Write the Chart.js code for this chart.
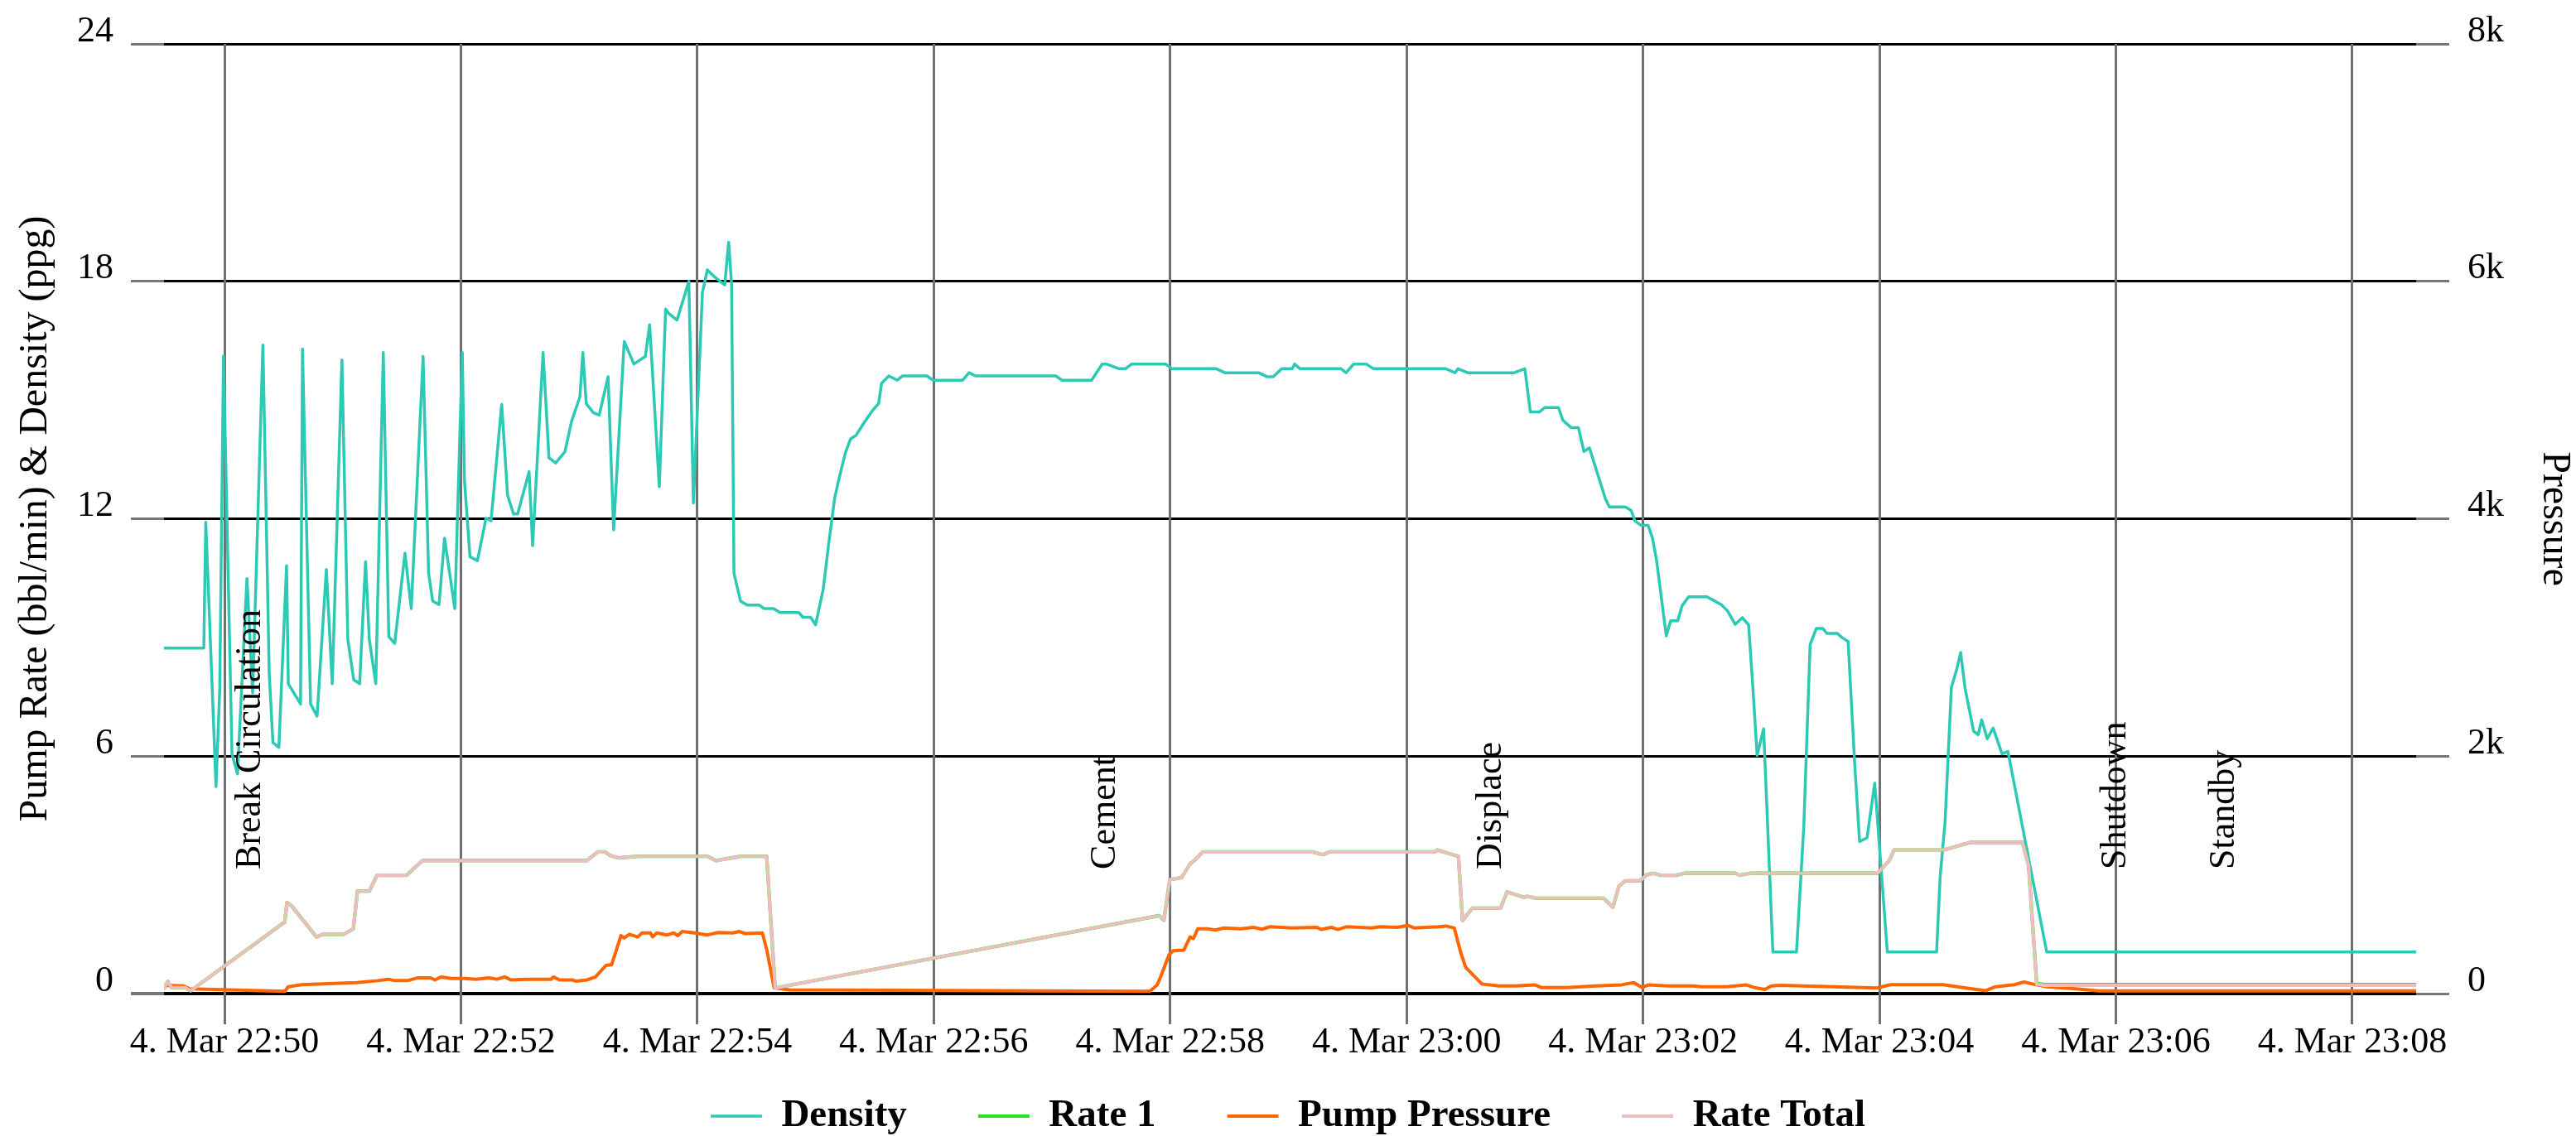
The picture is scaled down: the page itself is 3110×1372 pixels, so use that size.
<!DOCTYPE html>
<html>
<head>
<meta charset="utf-8">
<script src="https://cdn.jsdelivr.net/npm/chart.js@4"></script>
<style>
html,body{margin:0;padding:0;background:#fff;}
#wrap{width:3110px;height:1372px;}
</style>
</head>
<body>
<div id="wrap"><canvas id="c" width="3110" height="1372"></canvas></div>
<script>
// ---- DATA (time = seconds after 22:00:00 on 4 Mar) ----
const densityTime = [2969.5, 2989.5, 2990.5, 2995.7, 2997.6, 2999.5, 3003.8, 3006.6, 3011.4, 3014.3,
  3019.5, 3022.7, 3024.6, 3027.6, 3031.5, 3032.4, 3038.6, 3039.6, 3043.7, 3047.0,
  3051.7, 3054.7, 3059.6, 3062.6, 3065.6, 3068.6, 3071.6, 3073.5, 3076.8, 3080.6,
  3083.4, 3086.4, 3091.6, 3094.8, 3100.8, 3103.6, 3105.7, 3108.9, 3111.7, 3114.3,
  3116.9, 3120.7, 3121.8, 3124.6, 3128.4, 3132.7, 3135.3, 3140.7, 3143.7, 3146.7,
  3148.8, 3154.6, 3156.4, 3161.7, 3164.7, 3168.1, 3172.8, 3176.1, 3180.4, 3181.9,
  3183.6, 3187.2, 3190.2, 3194.7, 3197.5, 3202.9, 3207.8, 3213.6, 3215.8, 3220.7,
  3223.9, 3225.6, 3229.7, 3235.7, 3238.0, 3242.6, 3245.1, 3249.0, 3253.9, 3255.9,
  3257.4, 3258.6, 3261.9, 3265.3, 3271.3, 3273.9, 3278.6, 3282.0, 3291.5, 3293.6,
  3297.5, 3300.0, 3303.9, 3306.7, 3309.7, 3311.4, 3315.1, 3317.8, 3320.6, 3324.3,
  3329.0, 3332.0, 3333.5, 3337.2, 3341.5, 3344.2, 3356.5, 3359.7, 3374.7, 3377.9,
  3381.2, 3421.9, 3425.1, 3440.1, 3445.5, 3447.6, 3454.1, 3457.3, 3460.5, 3477.6,
  3480.9, 3503.4, 3507.7, 3524.9, 3529.1, 3532.3, 3536.6, 3542.0, 3543.1, 3545.9,
  3566.7, 3569.3, 3573.1, 3579.5, 3583.2, 3619.9, 3624.6, 3626.1, 3631.0, 3654.6,
  3660.0, 3662.8, 3667.5, 3670.1, 3677.1, 3679.3, 3683.6, 3687.2, 3690.0, 3692.8,
  3700.8, 3702.9, 3711.0, 3714.0, 3715.8, 3719.0, 3722.6, 3724.8, 3726.9, 3731.8,
  3734.0, 3737.6, 3739.8, 3743.2, 3752.2, 3756.5, 3759.7, 3762.9, 3766.8, 3770.4,
  3773.6, 3775.8, 3777.9, 3781.2, 3785.9, 3797.9, 3801.6, 3804.8, 3808.0, 3811.2,
  3813.4, 3818.7, 3820.9, 3824.1, 3827.3, 3829.9, 3833.7, 3837.6, 3844.0, 3869.0,
  3870.8, 3873.3, 3876.5, 3879.3, 3881.2, 3883.4, 3887.8, 3890.1, 3891.9, 3894.7,
  3897.7, 3902.2, 3905.2, 3924.9, 4112.4];
const densityValue = [8.73, 8.73, 11.91, 5.23, 7.70, 16.11, 6.06, 5.55, 10.49, 7.6,
  16.39, 8.09, 6.34, 6.22, 10.81, 7.83, 7.32, 16.29, 7.32, 7.01,
  10.72, 7.83, 16.01, 8.95, 7.93, 7.83, 10.91, 8.95, 7.83, 16.20,
  9.02, 8.85, 11.13, 9.73, 16.10, 10.62, 9.92, 9.83, 11.51, 10.62,
  9.73, 16.20, 12.97, 11.04, 10.94, 12.01, 11.95, 14.89, 12.59, 12.12,
  12.12, 13.19, 11.32, 16.20, 13.54, 13.41, 13.69, 14.45, 15.08, 16.20,
  14.91, 14.68, 14.62, 15.59, 11.72, 16.48, 15.91, 16.10, 16.90, 12.81,
  17.30, 17.18, 17.02, 18.0, 12.40, 17.72, 18.29, 18.10, 17.91, 18.99,
  17.91, 10.62, 9.92, 9.82, 9.82, 9.73, 9.73, 9.63, 9.63, 9.51,
  9.51, 9.32, 10.22, 11.38, 12.52, 12.90, 13.66, 14.02, 14.11, 14.40,
  14.74, 14.91, 15.42, 15.61, 15.50, 15.61, 15.61, 15.50, 15.50, 15.69,
  15.61, 15.61, 15.50, 15.50, 15.91, 15.91, 15.79, 15.79, 15.91, 15.91,
  15.79, 15.79, 15.69, 15.69, 15.59, 15.59, 15.79, 15.79, 15.91, 15.79,
  15.79, 15.69, 15.91, 15.91, 15.79, 15.79, 15.69, 15.79, 15.69, 15.69,
  15.79, 14.70, 14.70, 14.81, 14.81, 14.49, 14.30, 14.30, 13.70, 13.79,
  12.52, 12.30, 12.30, 12.21, 11.95, 11.83, 11.83, 11.51, 10.94, 9.04,
  9.42, 9.42, 9.80, 10.03, 10.03, 9.92, 9.83, 9.67, 9.33, 9.50,
  9.32, 7.70, 6.02, 6.69, 1.05, 1.05, 4.22, 8.82, 9.23, 9.23,
  9.10, 9.10, 9.00, 8.90, 5.93, 3.84, 3.94, 5.32, 1.05, 1.05,
  2.95, 4.34, 7.73, 8.21, 8.62, 7.73, 6.63, 6.54, 6.92, 6.44,
  6.71, 6.06, 6.12, 1.05, 1.05];

const rateTime = [2969.5, 2971.2, 2973.1, 2980.2, 2982.8, 3030.6, 3031.7, 3033.8, 3046.7, 3049.9,
  3060.7, 3065.4, 3067.5, 3073.5, 3077.4, 3092.4, 3100.4, 3184.0, 3189.4, 3193.2,
  3195.8, 3200.1, 3209.8, 3245.1, 3249.4, 3262.3, 3275.2, 3279.5, 3474.4, 3476.8,
  3479.8, 3485.8, 3490.1, 3492.2, 3496.5, 3552.3, 3557.6, 3560.9, 3614.5, 3615.6,
  3626.3, 3628.4, 3633.4, 3647.7, 3651.0, 3659.6, 3661.3, 3666.0, 3699.9, 3704.7,
  3707.8, 3711.0, 3718.5, 3721.8, 3725.0, 3729.3, 3736.8, 3741.1, 3766.8, 3769.0,
  3774.4, 3839.0, 3845.0, 3847.4, 3872.7, 3886.0, 3912.6, 3915.7, 3919.8, 3923.5,
  4112.4];
const rate1Value = [0.14, 0.31, 0.15, 0.15, 0.07, 1.81, 2.30, 2.23, 1.43, 1.50,
  1.50, 1.64, 2.59, 2.59, 2.99, 2.99, 3.36, 3.36, 3.58, 3.58,
  3.49, 3.43, 3.47, 3.47, 3.36, 3.47, 3.47, 0.14, 1.97, 1.85,
  2.88, 2.93, 3.28, 3.36, 3.58, 3.58, 3.51, 3.58, 3.58, 3.63,
  3.47, 1.85, 2.16, 2.16, 2.57, 2.43, 2.46, 2.41, 2.41, 2.18,
  2.72, 2.85, 2.85, 3.00, 3.04, 2.99, 2.99, 3.04, 3.04, 2.99,
  3.04, 3.04, 3.36, 3.63, 3.63, 3.82, 3.82, 3.24, 0.26, 0.23,
  0.23];
const rateTotalValue = [0.14, 0.31, 0.15, 0.15, 0.07, 1.81, 2.30, 2.23, 1.43, 1.50,
  1.50, 1.64, 2.59, 2.59, 2.99, 2.99, 3.36, 3.36, 3.58, 3.58,
  3.49, 3.43, 3.47, 3.47, 3.36, 3.47, 3.47, 0.14, 1.97, 1.85,
  2.88, 2.93, 3.28, 3.36, 3.58, 3.58, 3.51, 3.58, 3.58, 3.63,
  3.47, 1.85, 2.16, 2.16, 2.57, 2.43, 2.46, 2.41, 2.41, 2.18,
  2.72, 2.85, 2.85, 3.00, 3.04, 2.99, 2.99, 3.04, 3.04, 2.99,
  3.04, 3.04, 3.36, 3.63, 3.63, 3.82, 3.82, 3.24, 0.24, 0.21,
  0.21];

const pressureTime = [2969.5, 2970.6, 2979.1, 2982.3, 3030.6, 3032.4, 3039.2, 3067.1, 3077.8, 3083.2,
  3086.4, 3092.8, 3098.2, 3104.6, 3106.8, 3110.0, 3115.2, 3121.8, 3127.8, 3134.1,
  3138.3, 3142.2, 3145.4, 3152.9, 3165.8, 3166.9, 3170.1, 3176.5, 3178.6, 3184.0,
  3188.3, 3193.6, 3196.5, 3199.0, 3201.2, 3202.9, 3205.5, 3209.7, 3211.9, 3216.2,
  3217.3, 3219.4, 3224.8, 3228.0, 3230.1, 3232.3, 3238.7, 3245.1, 3250.5, 3258.0,
  3261.2, 3264.4, 3273.0, 3275.2, 3279.0, 3286.7, 3466.9, 3469.7, 3473.4, 3475.1,
  3479.4, 3481.5, 3486.9, 3490.1, 3491.8, 3494.0, 3498.7, 3502.9, 3507.3, 3515.8,
  3522.3, 3526.5, 3530.8, 3541.6, 3554.4, 3556.6, 3561.9, 3565.1, 3569.4, 3582.3,
  3586.6, 3595.2, 3600.6, 3603.8, 3616.7, 3619.9, 3624.2, 3627.4, 3630.0, 3638.2,
  3646.8, 3655.4, 3665.1, 3668.3, 3681.2, 3696.2, 3709.1, 3715.3, 3719.6, 3722.8,
  3732.5, 3745.4, 3749.7, 3762.5, 3772.2, 3776.5, 3781.8, 3785.1, 3789.5, 3816.8,
  3838.5, 3845.7, 3872.3, 3886.8, 3894.0, 3898.9, 3908.5, 3913.4, 3917.7, 3925.0,
  3937.0, 3951.5, 4112.4];
const pressureValue = [51, 70, 65, 40, 19, 58, 75, 93, 109, 121,
  109, 109, 133, 133, 115, 140, 127, 127, 120, 133,
  121, 140, 115, 121, 121, 140, 115, 115, 104, 115,
  140, 237, 244, 372, 488, 469, 500, 477, 511, 511,
  477, 511, 494, 511, 488, 523, 511, 494, 514, 511,
  523, 505, 511, 372, 48, 31, 20, 19, 74, 140,
  326, 361, 366, 477, 465, 546, 546, 535, 553, 546,
  558, 542, 563, 553, 558, 540, 558, 540, 563, 553,
  563, 558, 574, 553, 563, 569, 553, 349, 221, 81,
  65, 65, 74, 51, 51, 65, 74, 93, 51, 74,
  65, 65, 58, 58, 74, 51, 35, 65, 70, 58,
  47, 75, 75, 40, 25, 58, 75, 98, 81, 58,
  44, 22, 22];

const xTickSeconds = [3000, 3120, 3240, 3360, 3480, 3600, 3720, 3840, 3960, 4080];
const xTickLabels = ['4. Mar 22:50', '4. Mar 22:52', '4. Mar 22:54', '4. Mar 22:56', '4. Mar 22:58',
  '4. Mar 23:00', '4. Mar 23:02', '4. Mar 23:04', '4. Mar 23:06', '4. Mar 23:08'];
const xMin = 2969.3, xMax = 4112.4;

const eventNames = ['Break Circulation', 'Cement', 'Displace', 'Shutdown', 'Standby'];
const eventTimes = [3018, 3452, 3648, 3965, 4020];

const leftTitle = 'Pump Rate (bbl/min) & Density (ppg)';
const rightTitle = 'Pressure';

// ---- CHART ----
const FONT = "'Liberation Serif', 'Times New Roman', serif";
Chart.defaults.font.family = FONT;
Chart.defaults.color = '#000';

const zip = (xs, ys) => xs.map((x, i) => ({x: x, y: ys[i]}));

const eventLabelPlugin = {
  id: 'eventLabels',
  afterDatasetsDraw(chart, args, opts) {
    const ctx = chart.ctx;
    const xs = chart.scales.x, ys = chart.scales.y;
    ctx.save();
    ctx.font = opts.fontSize + 'px ' + FONT;
    ctx.fillStyle = '#000';
    ctx.textAlign = 'left';
    ctx.textBaseline = 'alphabetic';
    eventNames.forEach((name, i) => {
      const px = xs.getPixelForValue(eventTimes[i]);
      const py = ys.getPixelForValue(opts.baseValue);
      ctx.save();
      ctx.translate(px, py);
      ctx.rotate(-Math.PI / 2);
      ctx.fillText(name, 0, 0);
      ctx.restore();
    });
    ctx.restore();
  }
};

new Chart(document.getElementById('c'), {
  type: 'line',
  data: {
    datasets: [
      {label: 'Density', data: zip(densityTime, densityValue), borderColor: '#2cc9b5', backgroundColor: '#2cc9b5', borderWidth: 3.5, yAxisID: 'y', order: 3},
      {label: 'Rate 1', data: zip(rateTime, rate1Value), borderColor: '#1fe81f', backgroundColor: '#1fe81f', borderWidth: 4.2, yAxisID: 'y', order: 2},
      {label: 'Pump Pressure', data: zip(pressureTime, pressureValue), borderColor: '#ff6600', backgroundColor: '#ff6600', borderWidth: 4, yAxisID: 'y2', order: 1},
      {label: 'Rate Total', data: zip(rateTime, rateTotalValue), borderColor: '#ecbfbe', backgroundColor: '#ecbfbe', borderWidth: 4, yAxisID: 'y', order: 0}
    ]
  },
  options: {
    responsive: false,
    animation: false,
    devicePixelRatio: 1,
    elements: {
      point: {radius: 0, hoverRadius: 0},
      line: {tension: 0, borderJoinStyle: 'round', borderCapStyle: 'round', fill: false}
    },
    layout: {padding: {top: 53, left: 0, right: 0, bottom: -9.5}},
    plugins: {
      tooltip: {enabled: false},
      eventLabels: {baseValue: 3.14, fontSize: 44},
      legend: {
        position: 'bottom',
        labels: {
          usePointStyle: true,
          pointStyle: 'line',
          pointStyleWidth: 62,
          padding: 86,
          color: '#000',
          font: {size: 47, weight: 'bold', lineHeight: 1},
          sort: (a, b) => a.datasetIndex - b.datasetIndex
        }
      }
    },
    scales: {
      y: {
        type: 'linear', position: 'left', min: 0, max: 24,
        ticks: {stepSize: 6, font: {size: 44}, color: '#000', padding: 21, labelOffset: -15},
        grid: {color: '#000', tickColor: '#777', lineWidth: c => (c.tick && c.tick.value === 0) ? 4 : 3, tickLength: 40, z: -2},
        border: {display: false},
        title: {display: true, text: leftTitle, color: '#000', font: {size: 48, lineHeight: 1}, padding: {top: 19, bottom: 0}},
        afterFit: s => { s.width = 198; }
      },
      y2: {
        type: 'linear', position: 'right', min: 0, max: 8000,
        ticks: {stepSize: 2000, font: {size: 44}, color: '#000', padding: 22, labelOffset: -15,
          callback: v => v === 0 ? '0' : (v / 1000) + 'k'},
        grid: {drawOnChartArea: false, tickColor: '#777', lineWidth: 3, tickLength: 40},
        border: {display: false},
        title: {display: true, text: rightTitle, color: '#000', font: {size: 48, lineHeight: 1}, padding: {top: 2, bottom: 0}},
        afterFit: s => { s.width = 193; }
      },
      x: {
        type: 'linear', position: 'bottom', min: xMin, max: xMax,
        afterBuildTicks: s => { s.ticks = xTickSeconds.map(v => ({value: v})); },
        ticks: {autoSkip: false, maxRotation: 0, minRotation: 0, padding: 0, color: '#000',
          font: {size: 44, lineHeight: 1},
          callback: (v, i) => xTickLabels[i]},
        grid: {color: '#707070', lineWidth: 3, tickLength: 37, z: -1},
        border: {display: false},
        afterFit: s => { s.height = 38.5; s._computeLabelArea = () => undefined; }
      }
    }
  },
  plugins: [eventLabelPlugin]
});
</script>
</body>
</html>
